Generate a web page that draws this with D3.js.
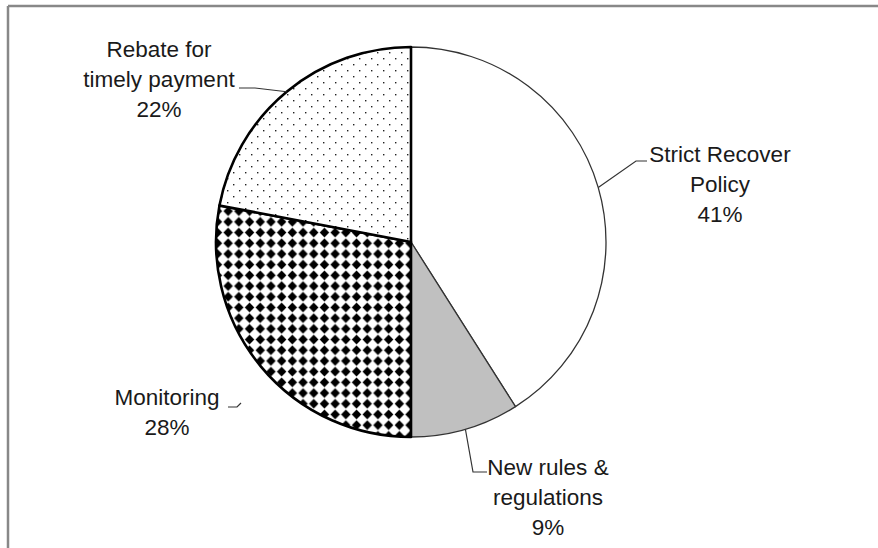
<!DOCTYPE html>
<html>
<head>
<meta charset="utf-8">
<script src="https://cdn.jsdelivr.net/npm/d3@7"></script>
<style>
  html, body { margin: 0; padding: 0; background: #fff; }
  svg { display: block; }
  .lbl { font-family: "Liberation Sans", Arial, sans-serif; font-size: 22.5px; fill: #1a1a1a; }
</style>
</head>
<body>
<svg id="chart" width="878" height="548"></svg>
<script>
// Survey shares of measures used to improve bill recovery
const categories = ["Strict Recover Policy", "New rules & regulations", "Monitoring", "Rebate for timely payment"];
const values = [41, 9, 28, 22];
const labelLines = [["Strict Recover", "Policy"], ["New rules &", "regulations"], ["Monitoring"], ["Rebate for", "timely payment"]];

const W = 878, H = 548;
const cx = 411, cy = 242, R = 195;

const svg = d3.select("#chart");
const defs = svg.append("defs");

// sparse dot fill
const dots = defs.append("pattern").attr("id", "dots")
  .attr("patternUnits", "userSpaceOnUse").attr("width", 12).attr("height", 12);
dots.append("rect").attr("width", 12).attr("height", 12).attr("fill", "#fff");
[[2, 2], [8, 8]].forEach(([x, y]) =>
  dots.append("rect").attr("x", x).attr("y", y).attr("width", 1.4).attr("height", 1.4).attr("fill", "#222"));

// diamond checker fill
const dS = 10.7;
const diam = defs.append("pattern").attr("id", "diamonds")
  .attr("patternUnits", "userSpaceOnUse").attr("width", dS).attr("height", dS)
  .attr("x", cx % dS).attr("y", cy % dS);
diam.append("rect").attr("width", dS).attr("height", dS).attr("fill", "#fff");
const h = dS / 2;
diam.append("path")
  .attr("d", `M${h},0.6 L${dS - 0.6},${h} L${h},${dS - 0.6} L0.6,${h} Z`)
  .attr("fill", "#000");

const fills = ["#ffffff", "#c0c0c0", "url(#diamonds)", "url(#dots)"];
const strokes = ["#333", "#333", "#000", "#000"];
const strokeW = [1.3, 1.3, 2.6, 2.6];

// frame
svg.append("line").attr("x1", 8).attr("y1", 6).attr("x2", W).attr("y2", 6)
  .attr("stroke", "#888").attr("stroke-width", 2.5);
svg.append("line").attr("x1", 8).attr("y1", 6).attr("x2", 8).attr("y2", H)
  .attr("stroke", "#888").attr("stroke-width", 2.5);

const pie = d3.pie().sort(null).value(d => d)(values);
const arc = d3.arc().innerRadius(0).outerRadius(R);

const g = svg.append("g").attr("transform", `translate(${cx},${cy})`);
// thin-bordered slices first, heavy-bordered slices on top
g.selectAll("path.slice").data([0, 1, 2, 3]).join("path")
  .attr("class", "slice")
  .attr("d", i => arc(pie[i]))
  .attr("fill", i => fills[i])
  .attr("stroke", i => strokes[i])
  .attr("stroke-width", i => strokeW[i])
  .attr("stroke-linejoin", "round");

// label placement: text centre x, first baseline y, and leader elbow/end points
const layout = [
  { tx: 720, ty: 162, leader: [[636, 161], [647, 161]] },
  { tx: 548, ty: 475, leader: [[473, 472], [487, 472]] },
  { tx: 167, ty: 405, leader: null, stub: [[241, 403], [237, 407], [228, 407]] },
  { tx: 159, ty: 57, leader: [[255, 88], [239, 88]] }
];
const lineH = 30;

pie.forEach((p, i) => {
  const mid = (p.startAngle + p.endAngle) / 2;
  const ex = cx + R * Math.sin(mid), ey = cy - R * Math.cos(mid);
  const L = layout[i];
  const pts = L.leader ? [[ex, ey], ...L.leader] : L.stub;
  svg.append("path")
    .attr("d", d3.line()(pts))
    .attr("fill", "none").attr("stroke", "#333").attr("stroke-width", 1.2);

  const lines = [...labelLines[i], values[i] + "%"];
  const t = svg.append("text").attr("class", "lbl").attr("text-anchor", "middle");
  lines.forEach((s, k) => {
    t.append("tspan").attr("x", L.tx).attr("y", L.ty + k * lineH).text(s);
  });
});
</script>
</body>
</html>
